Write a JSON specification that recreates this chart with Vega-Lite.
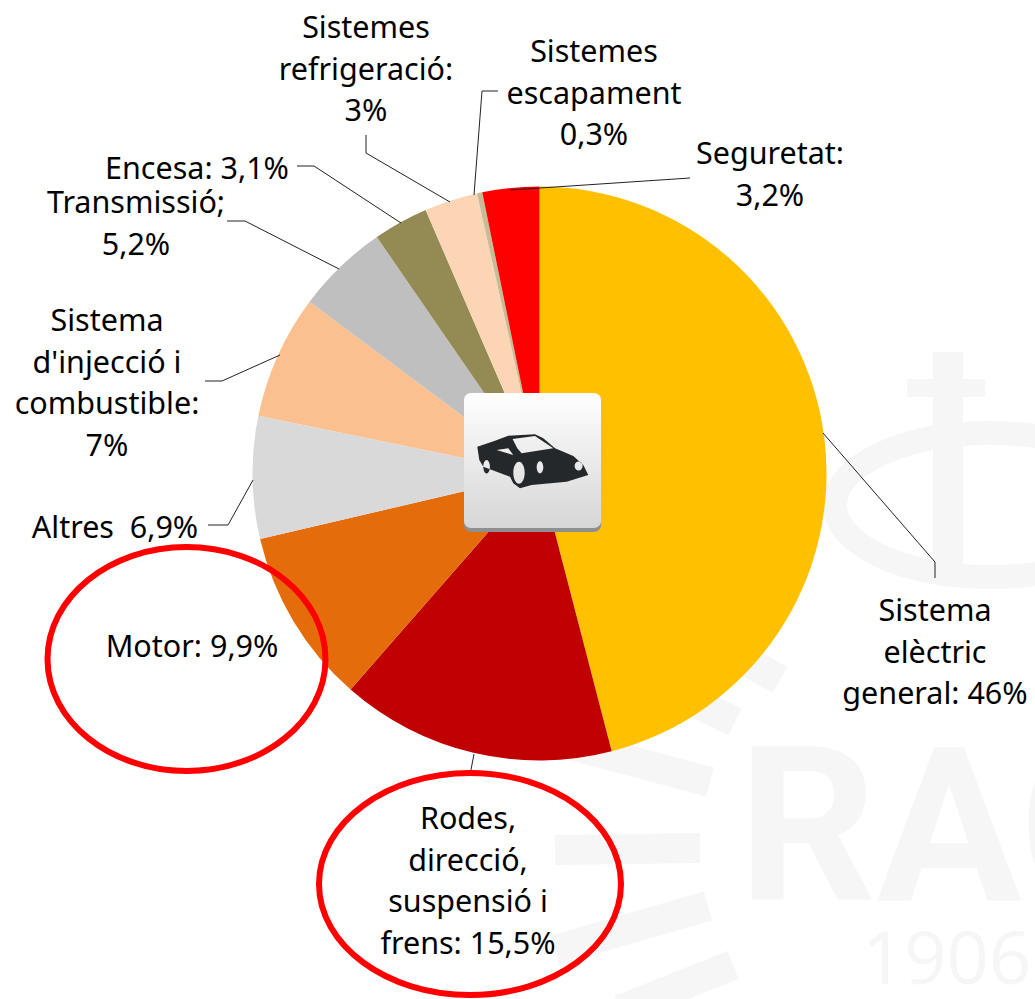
{
"$schema":"https://vega.github.io/schema/vega-lite/v6.json",
"width":1035,"height":999,"padding":0,"autosize":{"type":"none"},"background":"white",
"config":{"view":{"stroke":null}},
"datasets":{
"slices":[
{"sistema":"Sistema elèctric general","pct":46,"ord":1,"cx":539.5,"cy":473.5},
{"sistema":"Rodes, direcció, suspensió i frens","pct":15.5,"ord":2,"cx":539.5,"cy":473.5},
{"sistema":"Motor","pct":9.9,"ord":3,"cx":539.5,"cy":473.5},
{"sistema":"Altres","pct":6.9,"ord":4,"cx":539.5,"cy":473.5},
{"sistema":"Sistema d'injecció i combustible","pct":7,"ord":5,"cx":539.5,"cy":473.5},
{"sistema":"Transmissió","pct":5.2,"ord":6,"cx":539.5,"cy":473.5},
{"sistema":"Encesa","pct":3.1,"ord":7,"cx":539.5,"cy":473.5},
{"sistema":"Sistemes refrigeració","pct":3,"ord":8,"cx":539.5,"cy":473.5},
{"sistema":"Sistemes escapament","pct":0.3,"ord":9,"cx":539.5,"cy":473.5},
{"sistema":"Seguretat","pct":3.2,"ord":10,"cx":539.5,"cy":473.5}],
"labels":[
{"t":["Sistema","elèctric","general: 46%"],"x":935,"y":612},
{"t":["Rodes,","direcció,","suspensió i","frens: 15,5%"],"x":468,"y":820},
{"t":"Motor: 9,9%","x":192,"y":648},
{"t":"Altres\u00a0 6,9%","x":115,"y":529},
{"t":["Sistema","d'injecció i","combustible:","7%"],"x":107,"y":322},
{"t":["Transmissió;","5,2%"],"x":136,"y":204},
{"t":"Encesa: 3,1%","x":197,"y":170},
{"t":["Sistemes","refrigeració:","3%"],"x":366,"y":29},
{"t":["Sistemes","escapament","0,3%"],"x":594,"y":53},
{"t":["Seguretat:","3,2%"],"x":770,"y":155}],
"leaders":[
{"id":1,"i":1,"x":823,"y":433},{"id":1,"i":2,"x":935,"y":562},{"id":1,"i":3,"x":935,"y":578},
{"id":2,"i":1,"x":474,"y":754},{"id":2,"i":2,"x":470,"y":775},
{"id":3,"i":1,"x":253,"y":480},{"id":3,"i":2,"x":228,"y":525},{"id":3,"i":3,"x":208,"y":525},
{"id":4,"i":1,"x":280,"y":355},{"id":4,"i":2,"x":222,"y":381},{"id":4,"i":3,"x":205,"y":381},
{"id":5,"i":1,"x":227,"y":221},{"id":5,"i":2,"x":245,"y":221},{"id":5,"i":3,"x":339,"y":269},
{"id":6,"i":1,"x":297,"y":166},{"id":6,"i":2,"x":314,"y":166},{"id":6,"i":3,"x":401,"y":223},
{"id":7,"i":1,"x":366,"y":135},{"id":7,"i":2,"x":366,"y":153},{"id":7,"i":3,"x":450,"y":202},
{"id":8,"i":1,"x":498,"y":91},{"id":8,"i":2,"x":482,"y":91},{"id":8,"i":3,"x":474,"y":195},
{"id":9,"i":1,"x":690,"y":178},{"id":9,"i":2,"x":510,"y":190}],
"rays":[
{"id":1,"i":1,"x":560,"y":742},{"id":1,"i":2,"x":710,"y":782},
{"id":2,"i":1,"x":555,"y":850},{"id":2,"i":2,"x":700,"y":848},
{"id":3,"i":1,"x":555,"y":950},{"id":3,"i":2,"x":708,"y":906},
{"id":4,"i":1,"x":620,"y":1010},{"id":4,"i":2,"x":733,"y":965},
{"id":5,"i":1,"x":690,"y":700},{"id":5,"i":2,"x":735,"y":722},
{"id":6,"i":1,"x":745,"y":660},{"id":6,"i":2,"x":780,"y":680},
{"id":7,"i":1,"x":948,"y":352},{"id":7,"i":2,"x":948,"y":580}],
"crossbar":[{"id":8,"i":1,"x":907,"y":388},{"id":8,"i":2,"x":985,"y":388}],
"icon":[{"x":464,"x2":601,"y":394,"y2":532,"cx":533.3,"cy":460}],
"ring":[{"x":990,"y":505}],
"motorRing":[{"x":186.5,"y":659}],
"rodesRing":[{"x":470,"y":884}],
"wm1":[{"t":"RAC","x":738,"y":900}],
"wm2":[{"t":"1906","x":862,"y":984}]
},
"layer":[
{"data":{"name":"rays"},"mark":{"type":"line","stroke":"#f6f6f6","strokeWidth":30,"strokeCap":"butt"},
 "encoding":{"x":{"field":"x","type":"quantitative","scale":{"domain":[0,1035],"nice":false,"zero":false},"axis":null},
 "y":{"field":"y","type":"quantitative","scale":{"domain":[0,999],"nice":false,"zero":false,"reverse":true},"axis":null},
 "detail":{"field":"id"},"order":{"field":"i"}}},
{"data":{"name":"crossbar"},"mark":{"type":"line","stroke":"#f6f6f6","strokeWidth":18,"strokeCap":"butt"},
 "encoding":{"x":{"field":"x","type":"quantitative"},"y":{"field":"y","type":"quantitative"},"detail":{"field":"id"},"order":{"field":"i"}}},
{"data":{"name":"ring"},"mark":{"type":"point","shape":"M-155,0 A155,72 0 1 1 155,0 A155,72 0 1 1 -155,0 Z","size":4,"filled":false,"stroke":"#f6f6f6","strokeWidth":24,"opacity":1},
 "encoding":{"x":{"field":"x","type":"quantitative"},"y":{"field":"y","type":"quantitative"}}},
{"data":{"name":"wm1"},"mark":{"type":"text","font":"Liberation Sans Narrow, Roboto","fontWeight":700,"fontSize":216,"align":"left","baseline":"alphabetic","fill":"#f6f6f6"},
 "encoding":{"x":{"field":"x","type":"quantitative"},"y":{"field":"y","type":"quantitative"},"text":{"field":"t"}}},
{"data":{"name":"wm2"},"mark":{"type":"text","font":"Open Sans","fontSize":74,"align":"left","baseline":"alphabetic","fill":"#f6f6f6"},
 "encoding":{"x":{"field":"x","type":"quantitative"},"y":{"field":"y","type":"quantitative"},"text":{"field":"t"}}},
{"data":{"name":"slices"},"mark":{"type":"arc","outerRadius":287,"innerRadius":0},
 "encoding":{"x":{"field":"cx","type":"quantitative"},"y":{"field":"cy","type":"quantitative"},
 "theta":{"field":"pct","type":"quantitative","stack":true},
 "order":{"field":"ord"},
 "color":{"field":"sistema","type":"nominal","legend":null,"sort":null,
 "scale":{"domain":["Sistema elèctric general","Rodes, direcció, suspensió i frens","Motor","Altres","Sistema d'injecció i combustible","Transmissió","Encesa","Sistemes refrigeració","Sistemes escapament","Seguretat"],
 "range":["#FFC000","#C00000","#E46C0A","#D9D9D9","#FAC090","#BFBFBF","#948A54","#FCD5B5","#C4BD97","#FF0000"]}}}},
{"data":{"name":"leaders"},"mark":{"type":"line","stroke":"#222222","strokeWidth":1},
 "encoding":{"x":{"field":"x","type":"quantitative"},"y":{"field":"y","type":"quantitative"},"detail":{"field":"id"},"order":{"field":"i"}}},
{"data":{"name":"icon"},"mark":{"type":"rect","cornerRadius":7,"fill":"#8f8f8f"},
 "encoding":{"x":{"field":"x","type":"quantitative"},"x2":{"field":"x2"},"y":{"field":"y","type":"quantitative"},"y2":{"field":"y2"}}},
{"data":{"name":"icon"},"mark":{"type":"rect","cornerRadius":7,"yOffset":-1,"y2Offset":-4,
 "fill":{"gradient":"linear","x1":0,"y1":0,"x2":0,"y2":1,"stops":[{"offset":0,"color":"#ffffff"},{"offset":1,"color":"#d6d6d6"}]}},
 "encoding":{"x":{"field":"x","type":"quantitative"},"x2":{"field":"x2"},"y":{"field":"y","type":"quantitative"},"y2":{"field":"y2"}}},
{"data":{"name":"icon"},"mark":{"type":"point","filled":true,"opacity":1,"size":4,"fill":"#25282a","stroke":null,
 "shape":"M-56,-13.3 L-38.3,-19.3 L-25,-24.3 L1.7,-25.7 L10,-21.7 L21.7,-11.7 L40,-4 L50,5 L55,15 L33.3,21.7 L-1.7,25 L-13.3,28.3 L-20,23.3 L-23.3,16.7 L-50,6.7 L-54,0 Z M-20.7,-21 L-16,-11.7 L-11.7,-6.7 L20,-11.7 L1.7,-24 Z M-36.7,-10 L-20,-5 L-25,-11.7 Z M-20,12.7 A5.7,11 0 1 0 -8.6,12.7 A5.7,11 0 1 0 -20,12.7 Z M-50,6.7 A3.3,6.7 0 1 0 -43.4,6.7 A3.3,6.7 0 1 0 -50,6.7 Z M3.4,7.3 A3.3,6 0 1 0 10,7.3 A3.3,6 0 1 0 3.4,7.3 Z M41.3,6 A4,4.5 0 1 0 49.3,6 A4,4.5 0 1 0 41.3,6 Z"},
 "encoding":{"x":{"field":"cx","type":"quantitative"},"y":{"field":"cy","type":"quantitative"}}},
{"data":{"name":"motorRing"},"mark":{"type":"point","filled":false,"opacity":1,"size":4,"stroke":"#FF0000","strokeWidth":6,"shape":"M-139,0 A139,112 0 1 1 139,0 A139,112 0 1 1 -139,0 Z"},
 "encoding":{"x":{"field":"x","type":"quantitative"},"y":{"field":"y","type":"quantitative"}}},
{"data":{"name":"rodesRing"},"mark":{"type":"point","filled":false,"opacity":1,"size":4,"stroke":"#FF0000","strokeWidth":6,"shape":"M-151,0 A151,111 0 1 1 151,0 A151,111 0 1 1 -151,0 Z"},
 "encoding":{"x":{"field":"x","type":"quantitative"},"y":{"field":"y","type":"quantitative"}}},
{"data":{"name":"labels"},"mark":{"type":"text","font":"Noto Sans","fontSize":30.5,"align":"center","baseline":"middle","lineHeight":41.5,"fill":"#000000"},
 "encoding":{"x":{"field":"x","type":"quantitative"},"y":{"field":"y","type":"quantitative"},"text":{"field":"t"}}}
]
}
